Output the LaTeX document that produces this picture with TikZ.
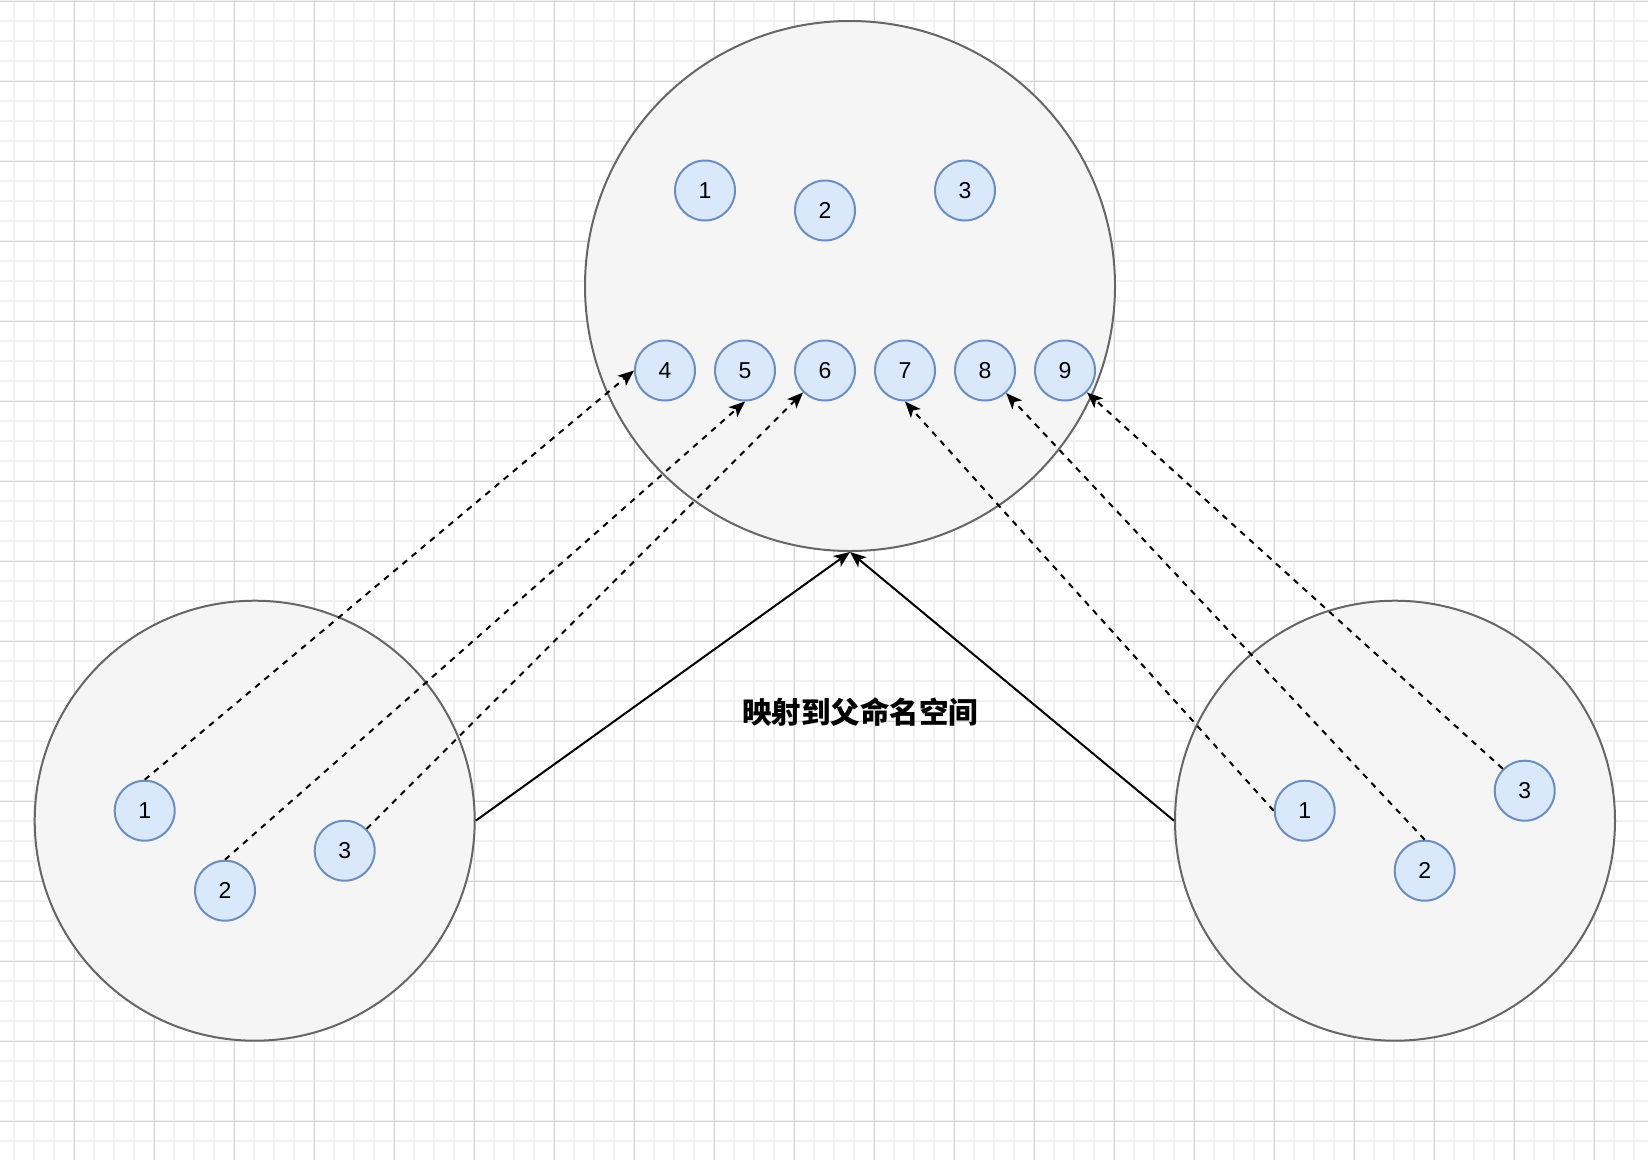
\documentclass[tikz,border=0pt]{standalone}
\usepackage{fontspec}
\setmainfont{Liberation Sans}
\newfontfamily\cjk{Noto Sans CJK SC}
\usepackage{xcolor}
\usetikzlibrary{arrows.meta}
\definecolor{bleuclair}{HTML}{DAE8FC}
\definecolor{bleubord}{HTML}{6C8EBF}
\definecolor{grisfond}{HTML}{F5F5F5}
\definecolor{grisbord}{HTML}{666666}
\definecolor{grille}{HTML}{D4D4D4}
\definecolor{grillefine}{HTML}{F1F1F1}

\begin{document}
\begin{tikzpicture}[x=1pt, y=-1pt,
    espace/.style={circle, draw=grisbord, fill=grisfond, line width=2pt, inner sep=0pt},
    boule/.style={circle, draw=bleubord, fill=bleuclair, line width=2pt, inner sep=0pt,
        minimum size=60pt, font=\fontsize{23}{27}\selectfont},
    lien/.style={-{Stealth[length=16pt, width=13pt, inset=4pt]}, line width=2pt},
    pointille/.style={lien, dash pattern=on 6pt off 6pt}]

    % Fond quadrillé
    \useasboundingbox (0,0) rectangle (1648,1160);
    \fill[white] (0,0) rectangle (1648,1160);
    \foreach \x in {14,34,...,1634} \draw[grillefine, line width=1.5pt] (\x,0) -- (\x,1160);
    \foreach \y in {1,21,...,1141} \draw[grillefine, line width=1.5pt] (0,\y) -- (1648,\y);
    \foreach \x in {74,154,...,1594} \draw[grille, line width=1pt] (\x,0) -- (\x,1160);
    \foreach \y in {1,81,...,1121} \draw[grille, line width=1pt] (0,\y) -- (1648,\y);

    % Espaces de noms
    \node[espace, minimum size=530pt] (parent) at (850,286) {};
    \node[espace, minimum size=440pt] (gauche) at (254.7,820.7) {};
    \node[espace, minimum size=440pt] (droite) at (1395,820.7) {};

    % Processus du parent
    \node[boule] (p1) at (705,190.5) {1};
    \node[boule] (p2) at (825,210.5) {2};
    \node[boule] (p3) at (965,190.5) {3};
    \node[boule] (p4) at (665,370.5) {4};
    \node[boule] (p5) at (745,370.5) {5};
    \node[boule] (p6) at (825,370.5) {6};
    \node[boule] (p7) at (905,370.5) {7};
    \node[boule] (p8) at (985,370.5) {8};
    \node[boule] (p9) at (1065,370.5) {9};

    % Processus de gauche
    \node[boule] (g1) at (144.7,810.7) {1};
    \node[boule] (g2) at (225,890.7) {2};
    \node[boule] (g3) at (344.7,850.7) {3};

    % Processus de droite
    \node[boule] (d1) at (1304.7,810.7) {1};
    \node[boule] (d2) at (1424.7,870.7) {2};
    \node[boule] (d3) at (1524.7,790.7) {3};

    % Correspondances
    \draw[pointille] (g1.north) -- (p4.west);
    \draw[pointille] (g2.north) -- (p5.south);
    \draw[pointille] (g3) -- (p6);
    \draw[pointille] (d1.west) -- (p7.south);
    \draw[pointille] (d2.north) -- (p8);
    \draw[pointille] (d3.north west) -- (p9.south east);

    % Flèches vers le parent
    \draw[lien] (gauche.east) -- (parent.south);
    \draw[lien] (droite.west) -- (parent.south);

    \node[font=\cjk\bfseries\fontsize{29.5}{34}\selectfont] (titre) at (860,711.7) {映射到父命名空间};

\end{tikzpicture}
\end{document}
